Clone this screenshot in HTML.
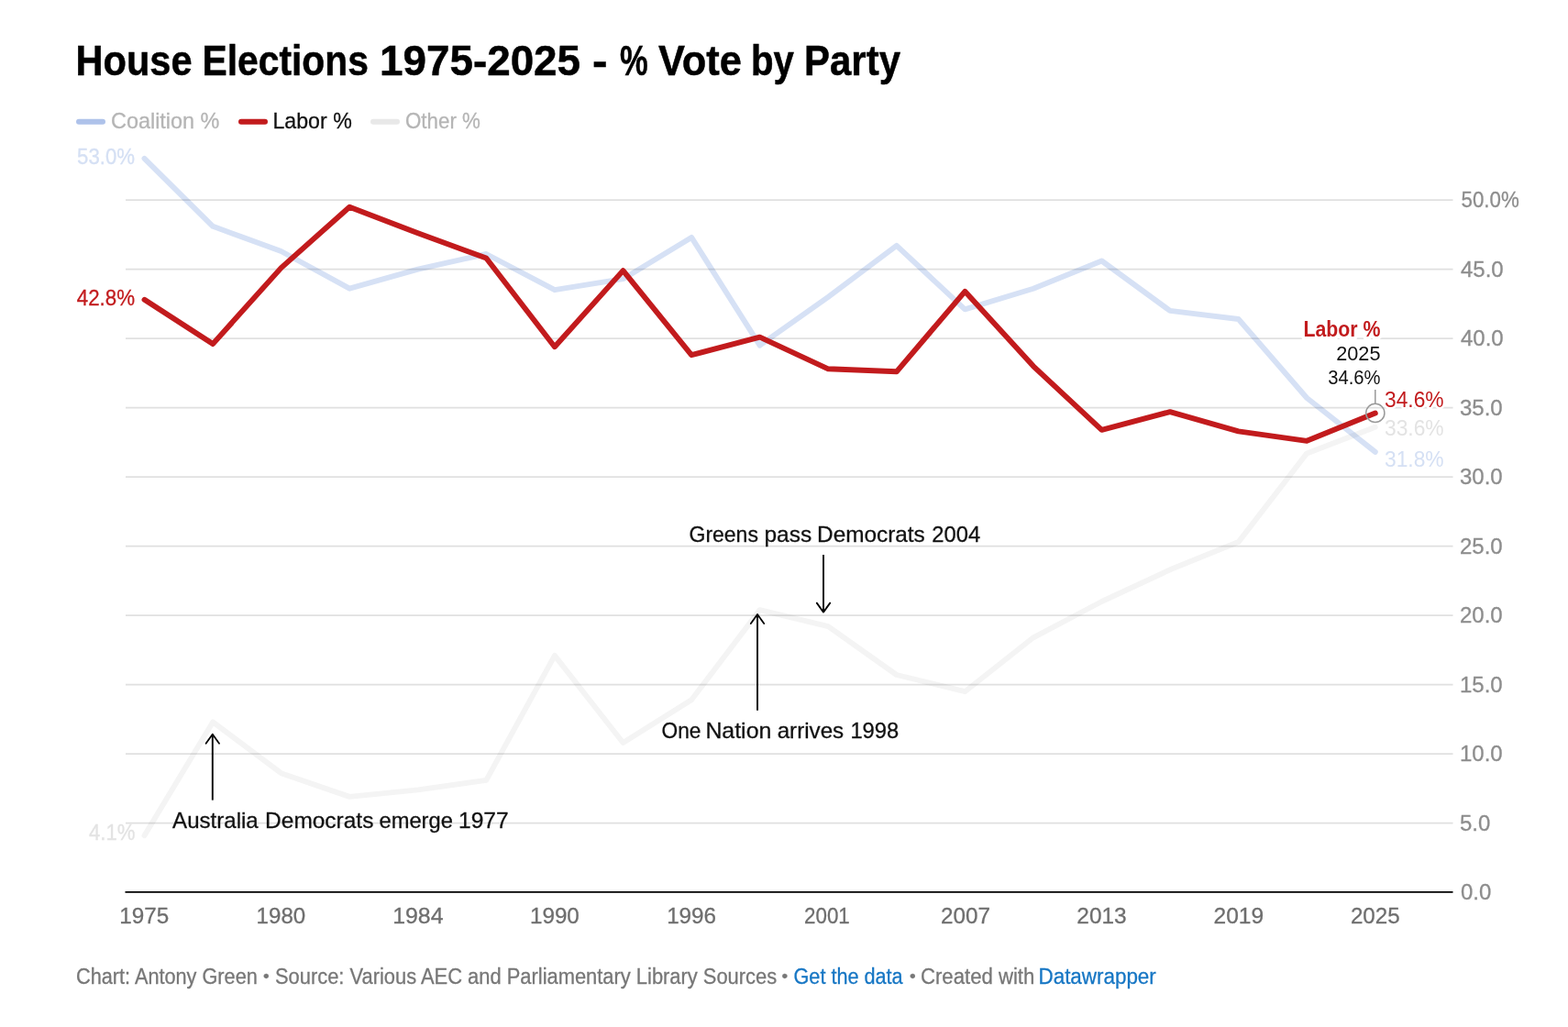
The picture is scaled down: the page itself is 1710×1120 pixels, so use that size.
<!DOCTYPE html>
<html><head><meta charset="utf-8"><title>House Elections 1975-2025 - % Vote by Party</title>
<style>
html,body{margin:0;padding:0;background:#fff;width:1710px;height:1120px;overflow:hidden}
svg{display:block;font-family:"Liberation Sans", Arial, sans-serif}
.halo{paint-order:stroke;stroke:#fff;stroke-width:5px;stroke-linejoin:round}
.halo2{paint-order:stroke;stroke:#fff;stroke-width:8px;stroke-linejoin:round}
.tstroke{stroke:#000;stroke-width:0.5px}
</style></head><body>
<svg width="1710" height="1120" viewBox="0 0 1710 1120">
<line x1="137" x2="1584.5" y1="897.6" y2="897.6" stroke="#e0e0e0" stroke-width="1.8"/>
<line x1="137" x2="1584.5" y1="822.1" y2="822.1" stroke="#e0e0e0" stroke-width="1.8"/>
<line x1="137" x2="1584.5" y1="746.6" y2="746.6" stroke="#e0e0e0" stroke-width="1.8"/>
<line x1="137" x2="1584.5" y1="671.1" y2="671.1" stroke="#e0e0e0" stroke-width="1.8"/>
<line x1="137" x2="1584.5" y1="595.6" y2="595.6" stroke="#e0e0e0" stroke-width="1.8"/>
<line x1="137" x2="1584.5" y1="520.1" y2="520.1" stroke="#e0e0e0" stroke-width="1.8"/>
<line x1="137" x2="1584.5" y1="444.6" y2="444.6" stroke="#e0e0e0" stroke-width="1.8"/>
<line x1="137" x2="1584.5" y1="369.1" y2="369.1" stroke="#e0e0e0" stroke-width="1.8"/>
<line x1="137" x2="1584.5" y1="293.6" y2="293.6" stroke="#e0e0e0" stroke-width="1.8"/>
<line x1="137" x2="1584.5" y1="218.1" y2="218.1" stroke="#e0e0e0" stroke-width="1.8"/>
<line x1="136.5" x2="1584.5" y1="972.9" y2="972.9" stroke="#000" stroke-width="1.8"/>
<polyline points="157.5,911.2 232.1,787.4 306.6,843.2 381.2,868.9 455.8,861.4 530.3,850.8 604.9,714.9 679.5,810.0 754.1,763.2 828.6,665.1 903.2,683.2 977.8,736.0 1052.3,754.2 1126.9,695.3 1201.5,656.0 1276.0,621.3 1350.6,591.1 1425.2,494.4 1499.8,465.7" fill="none" stroke="#f4f4f4" stroke-width="5.9" stroke-linejoin="round" stroke-linecap="round" style="mix-blend-mode:multiply"/>
<polyline points="157.5,172.8 232.1,246.8 306.6,274.0 381.2,314.7 455.8,293.6 530.3,277.0 604.9,316.2 679.5,304.2 754.1,258.9 828.6,376.7 903.2,323.8 977.8,267.9 1052.3,337.4 1126.9,314.7 1201.5,284.5 1276.0,338.9 1350.6,348.0 1425.2,434.0 1499.8,492.9" fill="none" stroke="#d6e1f5" stroke-width="5.9" stroke-linejoin="round" stroke-linecap="round" style="mix-blend-mode:multiply"/>
<polyline points="157.5,326.8 232.1,375.1 306.6,292.1 381.2,225.7 455.8,254.3 530.3,281.5 604.9,378.2 679.5,295.1 754.1,387.2 828.6,367.6 903.2,402.3 977.8,405.3 1052.3,317.8 1126.9,399.3 1201.5,468.8 1276.0,449.1 1350.6,470.3 1425.2,480.8 1499.8,450.6" fill="none" stroke="#c21b1d" stroke-width="5.9" stroke-linejoin="round" stroke-linecap="round"/>
<line x1="898.0" x2="898.0" y1="605" y2="667.6" stroke="#000" stroke-width="1.9"/><polyline points="890.8,657.6 898.0,667.6 905.2,657.6" fill="none" stroke="#000" stroke-width="1.8" stroke-linecap="round" stroke-linejoin="round"/>
<line x1="826.0" x2="826.0" y1="774.7" y2="670.0" stroke="#000" stroke-width="1.9"/><polyline points="818.8,680.0 826.0,670.0 833.2,680.0" fill="none" stroke="#000" stroke-width="1.8" stroke-linecap="round" stroke-linejoin="round"/>
<line x1="231.8" x2="231.8" y1="872.6" y2="800.8" stroke="#000" stroke-width="1.9"/><polyline points="224.60000000000002,810.8 231.8,800.8 239.0,810.8" fill="none" stroke="#000" stroke-width="1.8" stroke-linecap="round" stroke-linejoin="round"/>
<line x1="1499.8" x2="1499.8" y1="425" y2="440" stroke="#999" stroke-width="1.5"/>
<circle cx="1499.8" cy="450.4" r="10.1" fill="none" stroke="#999" stroke-width="1.5"/>
<line x1="86" x2="112" y1="132.8" y2="132.8" stroke="#aec2ea" stroke-width="6" stroke-linecap="round"/>
<line x1="263" x2="289" y1="132.8" y2="132.8" stroke="#c21b1d" stroke-width="6" stroke-linecap="round"/>
<line x1="407" x2="433" y1="132.8" y2="132.8" stroke="#e8e8e8" stroke-width="6" stroke-linecap="round"/>
<text id="title0" x="82.50" y="82.00" font-size="46.5" font-weight="bold" textLength="127.10" lengthAdjust="spacingAndGlyphs" class="tstroke" fill="#000">House</text>
<text id="title1" x="220.50" y="82.00" font-size="46.5" font-weight="bold" textLength="181.41" lengthAdjust="spacingAndGlyphs" class="tstroke" fill="#000">Elections</text>
<text id="title2" x="414.00" y="82.00" font-size="46.5" font-weight="bold" textLength="219.08" lengthAdjust="spacingAndGlyphs" class="tstroke" fill="#000">1975-2025</text>
<text id="title3" x="646.00" y="82.00" font-size="46.5" font-weight="bold" textLength="16.50" lengthAdjust="spacingAndGlyphs" class="tstroke" fill="#000">-</text>
<text id="title4" x="676.00" y="82.00" font-size="46.5" font-weight="bold" textLength="30.70" lengthAdjust="spacingAndGlyphs" class="tstroke" fill="#000">%</text>
<text id="title5" x="718.00" y="82.00" font-size="46.5" font-weight="bold" textLength="90.91" lengthAdjust="spacingAndGlyphs" class="tstroke" fill="#000">Vote</text>
<text id="title6" x="819.00" y="82.00" font-size="46.5" font-weight="bold" textLength="46.95" lengthAdjust="spacingAndGlyphs" class="tstroke" fill="#000">by</text>
<text id="title7" x="877.00" y="82.00" font-size="46.5" font-weight="bold" textLength="105.01" lengthAdjust="spacingAndGlyphs" class="tstroke" fill="#000">Party</text>
<text id="lg_coal" x="121.00" y="140.00" font-size="24" textLength="118.45" lengthAdjust="spacingAndGlyphs" fill="#b5b5b5" stroke="#b5b5b5" stroke-width="0.3">Coalition %</text>
<text id="lg_labor" x="297.50" y="140.00" font-size="24" textLength="86.22" lengthAdjust="spacingAndGlyphs" fill="#111" stroke="#111" stroke-width="0.3">Labor %</text>
<text id="lg_other" x="442.00" y="140.00" font-size="24" textLength="81.89" lengthAdjust="spacingAndGlyphs" fill="#b5b5b5" stroke="#b5b5b5" stroke-width="0.3">Other %</text>
<text id="y50" x="1593.50" y="226.30" font-size="24" textLength="63.28" lengthAdjust="spacingAndGlyphs" fill="#8d8d8d" stroke="#8d8d8d" stroke-width="0.3">50.0%</text>
<text id="y0" x="1593.00" y="981.40" font-size="24" fill="#8d8d8d" stroke="#8d8d8d" stroke-width="0.3">0.0</text>
<text id="y5" x="1592.00" y="905.90" font-size="24" fill="#8d8d8d" stroke="#8d8d8d" stroke-width="0.3">5.0</text>
<text id="y10" x="1592.00" y="830.40" font-size="24" fill="#8d8d8d" stroke="#8d8d8d" stroke-width="0.3">10.0</text>
<text id="y15" x="1592.00" y="754.90" font-size="24" fill="#8d8d8d" stroke="#8d8d8d" stroke-width="0.3">15.0</text>
<text id="y20" x="1592.00" y="679.40" font-size="24" fill="#8d8d8d" stroke="#8d8d8d" stroke-width="0.3">20.0</text>
<text id="y25" x="1592.00" y="603.90" font-size="24" fill="#8d8d8d" stroke="#8d8d8d" stroke-width="0.3">25.0</text>
<text id="y30" x="1592.00" y="528.40" font-size="24" fill="#8d8d8d" stroke="#8d8d8d" stroke-width="0.3">30.0</text>
<text id="y35" x="1592.00" y="452.90" font-size="24" fill="#8d8d8d" stroke="#8d8d8d" stroke-width="0.3">35.0</text>
<text id="y40" x="1593.00" y="377.40" font-size="24" fill="#8d8d8d" stroke="#8d8d8d" stroke-width="0.3">40.0</text>
<text id="y45" x="1593.00" y="301.90" font-size="24" fill="#8d8d8d" stroke="#8d8d8d" stroke-width="0.3">45.0</text>
<text id="x1975" x="157.30" y="1007.00" font-size="24" text-anchor="middle" textLength="53.89" lengthAdjust="spacingAndGlyphs" fill="#6e6e6e" stroke="#6e6e6e" stroke-width="0.3">1975</text>
<text id="x1980" x="306.40" y="1007.00" font-size="24" text-anchor="middle" textLength="53.66" lengthAdjust="spacingAndGlyphs" fill="#6e6e6e" stroke="#6e6e6e" stroke-width="0.3">1980</text>
<text id="x1984" x="455.80" y="1007.00" font-size="24" text-anchor="middle" textLength="55.35" lengthAdjust="spacingAndGlyphs" fill="#6e6e6e" stroke="#6e6e6e" stroke-width="0.3">1984</text>
<text id="x1990" x="604.90" y="1007.00" font-size="24" text-anchor="middle" textLength="53.91" lengthAdjust="spacingAndGlyphs" fill="#6e6e6e" stroke="#6e6e6e" stroke-width="0.3">1990</text>
<text id="x1996" x="754.10" y="1007.00" font-size="24" text-anchor="middle" textLength="53.90" lengthAdjust="spacingAndGlyphs" fill="#6e6e6e" stroke="#6e6e6e" stroke-width="0.3">1996</text>
<text id="x2001" x="901.90" y="1007.00" font-size="24" text-anchor="middle" textLength="49.73" lengthAdjust="spacingAndGlyphs" fill="#6e6e6e" stroke="#6e6e6e" stroke-width="0.3">2001</text>
<text id="x2007" x="1052.90" y="1007.00" font-size="24" text-anchor="middle" textLength="53.92" lengthAdjust="spacingAndGlyphs" fill="#6e6e6e" stroke="#6e6e6e" stroke-width="0.3">2007</text>
<text id="x2013" x="1201.50" y="1007.00" font-size="24" text-anchor="middle" textLength="54.29" lengthAdjust="spacingAndGlyphs" fill="#6e6e6e" stroke="#6e6e6e" stroke-width="0.3">2013</text>
<text id="x2019" x="1350.80" y="1007.00" font-size="24" text-anchor="middle" textLength="54.52" lengthAdjust="spacingAndGlyphs" fill="#6e6e6e" stroke="#6e6e6e" stroke-width="0.3">2019</text>
<text id="x2025" x="1499.80" y="1007.00" font-size="24" text-anchor="middle" textLength="53.74" lengthAdjust="spacingAndGlyphs" fill="#6e6e6e" stroke="#6e6e6e" stroke-width="0.3">2025</text>
<text id="greens0" x="751.50" y="591.00" font-size="24" textLength="75.41" lengthAdjust="spacingAndGlyphs" fill="#111" stroke="#111" stroke-width="0.3">Greens</text>
<text id="greens1" x="833.50" y="591.00" font-size="24" textLength="51.63" lengthAdjust="spacingAndGlyphs" fill="#111" stroke="#111" stroke-width="0.3">pass</text>
<text id="greens2" x="891.10" y="591.00" font-size="24" textLength="117.69" lengthAdjust="spacingAndGlyphs" fill="#111" stroke="#111" stroke-width="0.3">Democrats</text>
<text id="greens3" x="1016.30" y="591.00" font-size="24" textLength="52.81" lengthAdjust="spacingAndGlyphs" fill="#111" stroke="#111" stroke-width="0.3">2004</text>
<text id="onenation0" x="721.50" y="804.90" font-size="24" textLength="42.90" lengthAdjust="spacingAndGlyphs" fill="#111" stroke="#111" stroke-width="0.3">One</text>
<text id="onenation1" x="769.40" y="804.90" font-size="24" textLength="71.93" lengthAdjust="spacingAndGlyphs" fill="#111" stroke="#111" stroke-width="0.3">Nation</text>
<text id="onenation2" x="847.70" y="804.90" font-size="24" textLength="72.45" lengthAdjust="spacingAndGlyphs" fill="#111" stroke="#111" stroke-width="0.3">arrives</text>
<text id="onenation3" x="927.40" y="804.90" font-size="24" textLength="52.79" lengthAdjust="spacingAndGlyphs" fill="#111" stroke="#111" stroke-width="0.3">1998</text>
<text id="austr0" x="188.10" y="902.60" font-size="24" textLength="93.61" lengthAdjust="spacingAndGlyphs" fill="#111" stroke="#111" stroke-width="0.3">Australia</text>
<text id="austr1" x="289.10" y="902.60" font-size="24" textLength="118.31" lengthAdjust="spacingAndGlyphs" fill="#111" stroke="#111" stroke-width="0.3">Democrats</text>
<text id="austr2" x="413.50" y="902.60" font-size="24" textLength="80.36" lengthAdjust="spacingAndGlyphs" fill="#111" stroke="#111" stroke-width="0.3">emerge</text>
<text id="austr3" x="500.00" y="902.60" font-size="24" textLength="54.71" lengthAdjust="spacingAndGlyphs" fill="#111" stroke="#111" stroke-width="0.3">1977</text>
<text id="l53" x="147.00" y="178.70" font-size="24" text-anchor="end" textLength="62.95" lengthAdjust="spacingAndGlyphs" fill="#d5e0f4" stroke="#d5e0f4" stroke-width="0.3">53.0%</text>
<text id="l428" x="147.00" y="332.80" font-size="24" text-anchor="end" textLength="63.25" lengthAdjust="spacingAndGlyphs" fill="#c21b1d" stroke="#c21b1d" stroke-width="0.3">42.8%</text>
<text id="l41" x="147.50" y="915.80" font-size="24" text-anchor="end" textLength="50.46" lengthAdjust="spacingAndGlyphs" fill="#e3e3e3" stroke="#e3e3e3" stroke-width="0.3">4.1%</text>
<text id="r346" x="1510.00" y="443.90" font-size="24" textLength="64.58" lengthAdjust="spacingAndGlyphs" class="halo" fill="#c21b1d">34.6%</text>
<text id="r336" x="1510.00" y="474.70" font-size="24" textLength="64.58" lengthAdjust="spacingAndGlyphs" class="halo" fill="#e3e3e3">33.6%</text>
<text id="r318" x="1510.00" y="508.60" font-size="24" textLength="64.58" lengthAdjust="spacingAndGlyphs" class="halo" fill="#d5e0f4">31.8%</text>
<text id="tt_labor" x="1505.50" y="366.70" font-size="24" font-weight="bold" text-anchor="end" textLength="84.06" lengthAdjust="spacingAndGlyphs" class="halo2" fill="#c21b1d">Labor %</text>
<text id="tt_2025" x="1505.50" y="392.80" font-size="22" text-anchor="end" textLength="48.25" lengthAdjust="spacingAndGlyphs" class="halo2" fill="#111">2025</text>
<text id="tt_346" x="1505.50" y="418.60" font-size="22" text-anchor="end" textLength="57.25" lengthAdjust="spacingAndGlyphs" class="halo2" fill="#111">34.6%</text>
<text id="foot0" x="83.00" y="1072.80" font-size="23" textLength="197.78" lengthAdjust="spacingAndGlyphs" fill="#777" stroke="#777" stroke-width="0.3">Chart: Antony Green</text>
<text id="foot1" x="300.00" y="1072.80" font-size="23" textLength="547.15" lengthAdjust="spacingAndGlyphs" fill="#777" stroke="#777" stroke-width="0.3">Source: Various AEC and Parliamentary Library Sources</text>
<text id="foot2" x="865.50" y="1072.80" font-size="23" textLength="119.17" lengthAdjust="spacingAndGlyphs" fill="#1676c4" stroke="#1676c4" stroke-width="0.3">Get the data</text>
<text id="foot3" x="1004.00" y="1072.80" font-size="23" textLength="124.34" lengthAdjust="spacingAndGlyphs" fill="#777" stroke="#777" stroke-width="0.3">Created with</text>
<text id="foot4" x="1132.50" y="1072.80" font-size="23" textLength="128.29" lengthAdjust="spacingAndGlyphs" fill="#1676c4" stroke="#1676c4" stroke-width="0.3">Datawrapper</text>
<text id="bul0" x="287.10" y="1071.00" font-size="19" fill="#777" stroke="#777" stroke-width="0.3">•</text>
<text id="bul1" x="852.60" y="1071.00" font-size="19" fill="#777" stroke="#777" stroke-width="0.3">•</text>
<text id="bul2" x="992.10" y="1071.00" font-size="19" fill="#777" stroke="#777" stroke-width="0.3">•</text>
</svg>
</body></html>
